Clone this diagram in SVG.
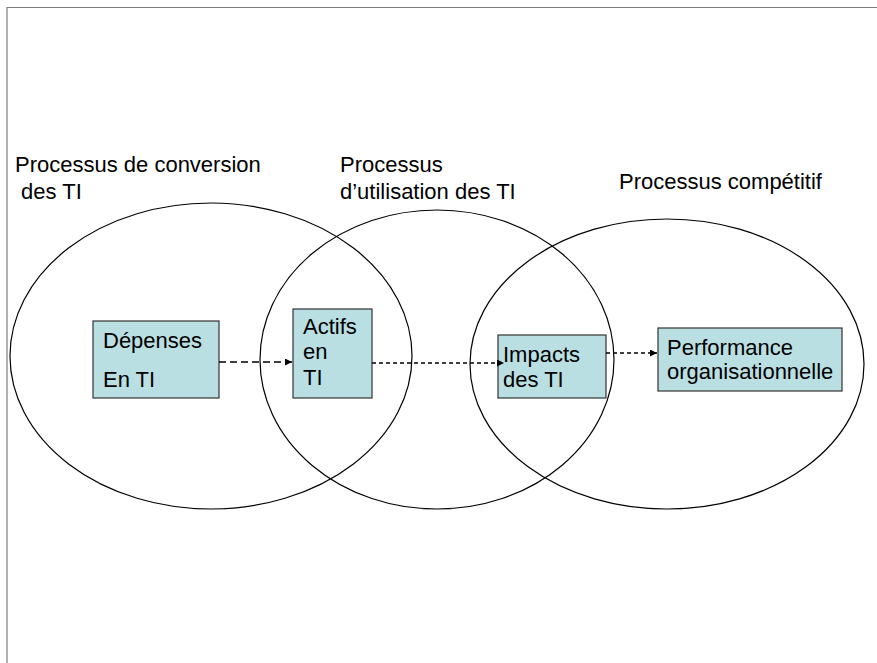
<svg xmlns="http://www.w3.org/2000/svg" width="877" height="663" viewBox="0 0 877 663">
  <style>
    .frame { stroke: #7f7f7f; stroke-width: 1.2; fill: none; }
    .zone { fill: none; stroke: #000; stroke-width: 1.2; }
    .box { fill: #b9dfe2; stroke: #333; stroke-width: 1.2; }
    .lbl { font-family: "Liberation Sans", Arial, sans-serif; font-size: 22px; fill: #000; }
    .flow { stroke: #000; stroke-width: 1.3; fill: none; }
    .long { stroke-dasharray: 7 4; }
    .short { stroke-dasharray: 4 3; }
  </style>
  <defs>
    <marker id="arrow" viewBox="0 0 8 8" refX="8" refY="4" markerWidth="7" markerHeight="7" markerUnits="userSpaceOnUse" orient="auto">
      <path d="M0,0 L8,4 L0,8 z" fill="#000"/>
    </marker>
  </defs>

  <!-- page frame -->
  <path class="frame" d="M7,663 V7.5 H877"/>

  <!-- process zones -->
  <g id="zone-conversion">
    <ellipse class="zone" cx="211" cy="356" rx="201" ry="153"/>
    <text class="lbl" x="15" y="172">Processus de conversion</text>
    <text class="lbl" x="15" y="199" xml:space="preserve"> des TI</text>
  </g>
  <g id="zone-utilisation">
    <ellipse class="zone" cx="437" cy="359.5" rx="177" ry="149.5"/>
    <text class="lbl" x="340" y="172">Processus</text>
    <text class="lbl" x="340" y="199">d’utilisation des TI</text>
  </g>
  <g id="zone-competitif">
    <ellipse class="zone" cx="667" cy="364" rx="197" ry="145"/>
    <text class="lbl" x="619" y="189">Processus compétitif</text>
  </g>

  <!-- nodes -->
  <g id="depenses">
    <rect class="box" x="93" y="321" width="126" height="77"/>
    <text class="lbl" x="103" y="348">Dépenses</text>
    <text class="lbl" x="103" y="387">En TI</text>
  </g>
  <g id="actifs">
    <rect class="box" x="293" y="309" width="79" height="89"/>
    <text class="lbl" x="303" y="334">Actifs</text>
    <text class="lbl" x="303" y="359">en</text>
    <text class="lbl" x="303" y="385">TI</text>
  </g>
  <g id="impacts">
    <rect class="box" x="498" y="335" width="108" height="63"/>
    <text class="lbl" x="503" y="362">Impacts</text>
    <text class="lbl" x="503" y="387">des TI</text>
  </g>
  <g id="performance">
    <rect class="box" x="658" y="328" width="184" height="63"/>
    <text class="lbl" x="667" y="355">Performance</text>
    <text class="lbl" x="667" y="379">organisationnelle</text>
  </g>

  <!-- connectors -->
  <g id="connectors">
    <line class="flow long" x1="219" y1="362" x2="292" y2="362" marker-end="url(#arrow)"/>
    <line class="flow short" x1="372" y1="363" x2="504" y2="363" marker-end="url(#arrow)"/>
    <line class="flow short" x1="606" y1="353" x2="657" y2="353" marker-end="url(#arrow)"/>
  </g>
</svg>
